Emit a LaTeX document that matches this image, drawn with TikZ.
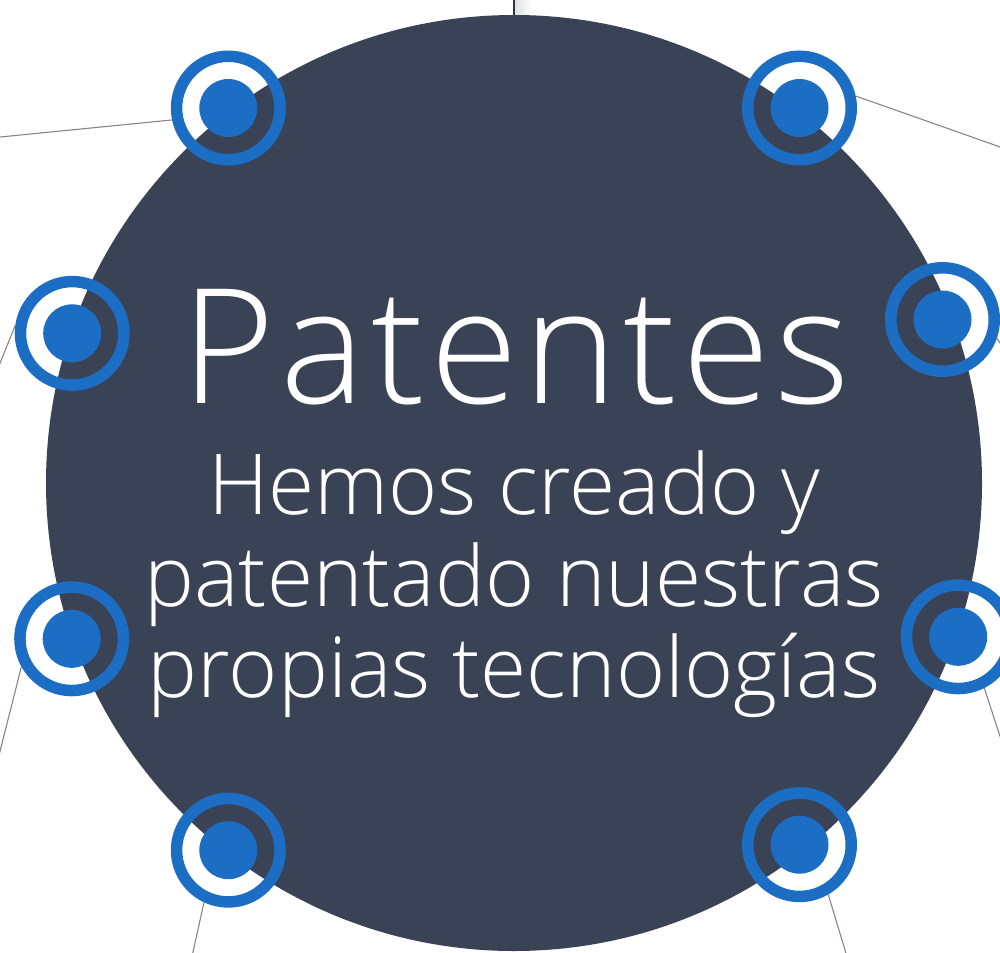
\documentclass[tikz,border=0pt]{standalone}
\usepackage{fontspec}
\IfFontExistsTF{Open Sans Light}{\setmainfont{Open Sans Light}}{\setmainfont{Open Sans}}
\definecolor{navy}{HTML}{3A4356}
\definecolor{ringblue}{HTML}{1C6EC4}
\definecolor{linegray}{HTML}{8C8484}
\definecolor{topline}{HTML}{2E3748}
\begin{document}
\begin{tikzpicture}[x=1pt,y=-1pt,
  ring/.style={circle,draw=ringblue,line width=11.5pt,minimum size=103.5pt,inner sep=0pt},
  dot/.style={circle,fill=ringblue,minimum size=58pt,inner sep=0pt},
  link/.style={draw=linegray,line width=1.1pt},
  big/.style={circle,fill=navy,minimum size=936pt,inner sep=0pt,outer sep=0pt},
  title/.style={text=white,font=\fontsize{160}{160}\selectfont\addfontfeatures{LetterSpace=3.4},anchor=base,inner sep=0pt},
  sub/.style={text=white,font=\fontsize{84}{84}\selectfont,anchor=base,inner sep=0pt}]
\useasboundingbox (0,0) rectangle (1000,952);
% top connector shadow
\shade[left color=black!12,right color=white] (515,0) rectangle (532,15);
% big circle
\node[big] (big) at (514,483) {};
\coordinate (topend) at (514,-2);
\draw[topline,line width=2pt] (big.north) -- (topend);
% rings
\node[ring] (r1) at (228.3,108) {};
\node[ring] (r2) at (799.5,108) {};
\node[ring] (r3) at (72.2,333.3) {};
\node[ring] (r4) at (942.5,319.5) {};
\node[ring] (r5) at (71.7,638.8) {};
\node[ring] (r6) at (958.2,636.8) {};
\node[ring] (r7) at (228.3,850.2) {};
\node[ring] (r8) at (799.5,844.7) {};
\foreach \i in {1,...,8} {\node[dot] (d\i) at (r\i) {};}
% free ends
\coordinate (e1) at (-20,139);
\coordinate (e2) at (1020,154);
\coordinate (e3) at (-8,383);
\coordinate (e4) at (1010,358);
\coordinate (e5) at (-5,771);
\coordinate (e6) at (1010,767);
\coordinate (e7) at (189,970);
\coordinate (e8) at (851,970);
\draw[link] (r1.192) -- (e1);
\draw[link] (r2.12) -- (e2);
\draw[link] (r3.172) -- (e3);
\draw[link] (r4.-19) -- (e4);
\draw[link] (r5.209) -- (e5);
\draw[link] (r6.-63) -- (e6);
\draw[link] (r7.245) -- (e7);
\draw[link] (r8.-60) -- (e8);
% text
\node[title] (t) at (516,403) {Patentes};
\node[sub] (s1) at (514,514) {Hemos creado y};
\node[sub] (s2) at (514,606) {patentado nuestras};
\node[sub] (s3) at (514,697) {propias tecnologías};
\end{tikzpicture}
\end{document}
